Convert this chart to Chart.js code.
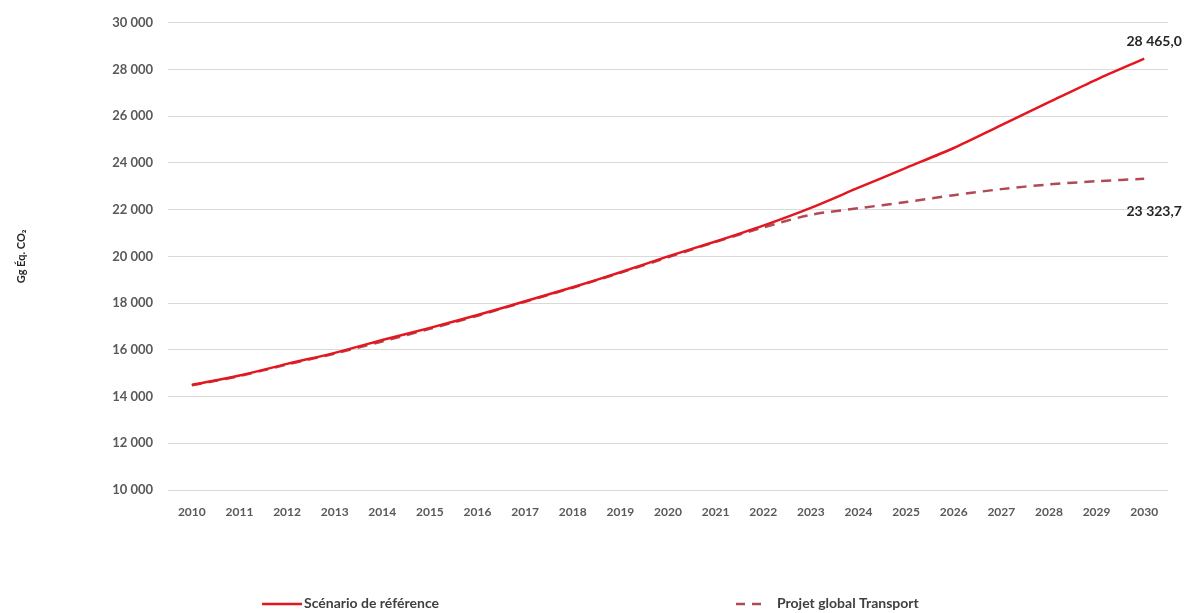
<!DOCTYPE html>
<html>
<head>
<meta charset="utf-8">
<script src="https://cdn.jsdelivr.net/npm/chart.js@4"></script>
<style>
  body { margin: 0; background: #fff; }
  #wrap { width: 1184px; height: 613px; }
</style>
</head>
<body>
<div id="wrap"><canvas id="myChart"></canvas></div>
<script>
// data (Gg Éq. CO2)
var years = ['2010','2011','2012','2013','2014','2015','2016','2017','2018','2019','2020',
             '2021','2022','2023','2024','2025','2026','2027','2028','2029','2030'];
var reference = [14500, 14900, 15400, 15870, 16420, 16940, 17490, 18080, 18680, 19320, 20000,
                 20640, 21320, 22080, 22940, 23790, 24640, 25620, 26600, 27570, 28465.0];
var transport = [14480, 14880, 15370, 15840, 16360, 16900, 17460, 18060, 18660, 19300, 19960,
                 20620, 21240, 21780, 22060, 22330, 22620, 22880, 23080, 23220, 23323.7];
var seriesNames = ['Scénario de référence', 'Projet global Transport'];
var endLabels = ['28 465,0', '23 323,7'];

var redSolid = '#e3171f';
var redDash = '#b04a55';

function spaced(v){
  return String(v).replace(/\B(?=(\d{3})+(?!\d))/g, ' ');
}

// value labels at the last point of each line
var endLabelPlugin = {
  id: 'endLabels',
  afterDatasetsDraw: function(chart){
    var ctx = chart.ctx;
    ctx.save();
    ctx.font = 'bold 14px Lato';
    ctx.fillStyle = '#262626';
    ctx.textAlign = 'center';
    ctx.textBaseline = 'middle';
    var m0 = chart.getDatasetMeta(0).data;
    var p0 = m0[m0.length-1];
    ctx.fillText(endLabels[0], p0.x + 10, p0.y - 17);
    var m1 = chart.getDatasetMeta(1).data;
    var p1 = m1[m1.length-1];
    ctx.fillText(endLabels[1], p1.x + 10, p1.y + 33);
    ctx.restore();
  }
};

// legend spread out like in the original
var legendPlugin = {
  id: 'wideLegend',
  afterDraw: function(chart){
    var ctx = chart.ctx;
    var items = [
      {x1: 262, x2: 302, tx: 304, color: redSolid, dash: []},
      {x1: 736, x2: 768, tx: 777, color: redDash, dash: [9, 7]}
    ];
    ctx.save();
    ctx.font = 'bold 14px Lato';
    ctx.textBaseline = 'middle';
    items.forEach(function(it, i){
      ctx.strokeStyle = it.color;
      ctx.lineWidth = 2.5;
      ctx.setLineDash(it.dash);
      ctx.beginPath();
      ctx.moveTo(it.x1, 604);
      ctx.lineTo(it.x2, 604);
      ctx.stroke();
      ctx.fillStyle = '#404040';
      ctx.fillText(seriesNames[i], it.tx, 603);
    });
    ctx.restore();
  }
};

var ctxx = document.getElementById('myChart').getContext('2d');
var chart = new Chart(ctxx, {
  type: 'line',
  data: {
    labels: years,
    datasets: [{
      label: seriesNames[0],
      data: reference,
      borderColor: redSolid,
      backgroundColor: redSolid,
      borderWidth: 2.5,
      pointRadius: 0,
      tension: 0.3
    }, {
      label: seriesNames[1],
      data: transport,
      borderColor: redDash,
      backgroundColor: redDash,
      borderWidth: 2.5,
      borderDash: [10, 7],
      pointRadius: 0,
      tension: 0.3
    }]
  },
  options: {
    responsive: true,
    maintainAspectRatio: false,
    animation: false,
    layout: { padding: { top: 18, right: 16, left: 0, bottom: 0 } },
    plugins: {
      legend: { display: false },
      tooltip: { enabled: false }
    },
    scales: {
      x: {
        offset: true,
        grid: { display: false },
        border: { display: false },
        ticks: { color: '#595959', font: { family: 'Lato', size: 12, weight: 'bold' }, maxRotation: 0, padding: 7 },
        afterFit: function(s){ s.height = 123; }
      },
      y: {
        min: 10000,
        max: 30000,
        border: { display: false },
        grid: { color: '#d9d9d9', lineWidth: 1, drawTicks: false },
        ticks: {
          stepSize: 2000,
          padding: 15,
          color: '#595959',
          font: { family: 'Lato', size: 13, weight: 'bold' },
          callback: function(v){ return spaced(v); }
        },
        title: {
          display: true,
          text: 'Gg Éq. CO₂',
          color: '#262626',
          font: { family: 'Lato', size: 11, weight: 'bold' },
          padding: { top: 15, bottom: 0 }
        },
        afterFit: function(s){ s.width = 168; }
      }
    }
  },
  plugins: [endLabelPlugin, legendPlugin]
});
</script>
</body>
</html>
